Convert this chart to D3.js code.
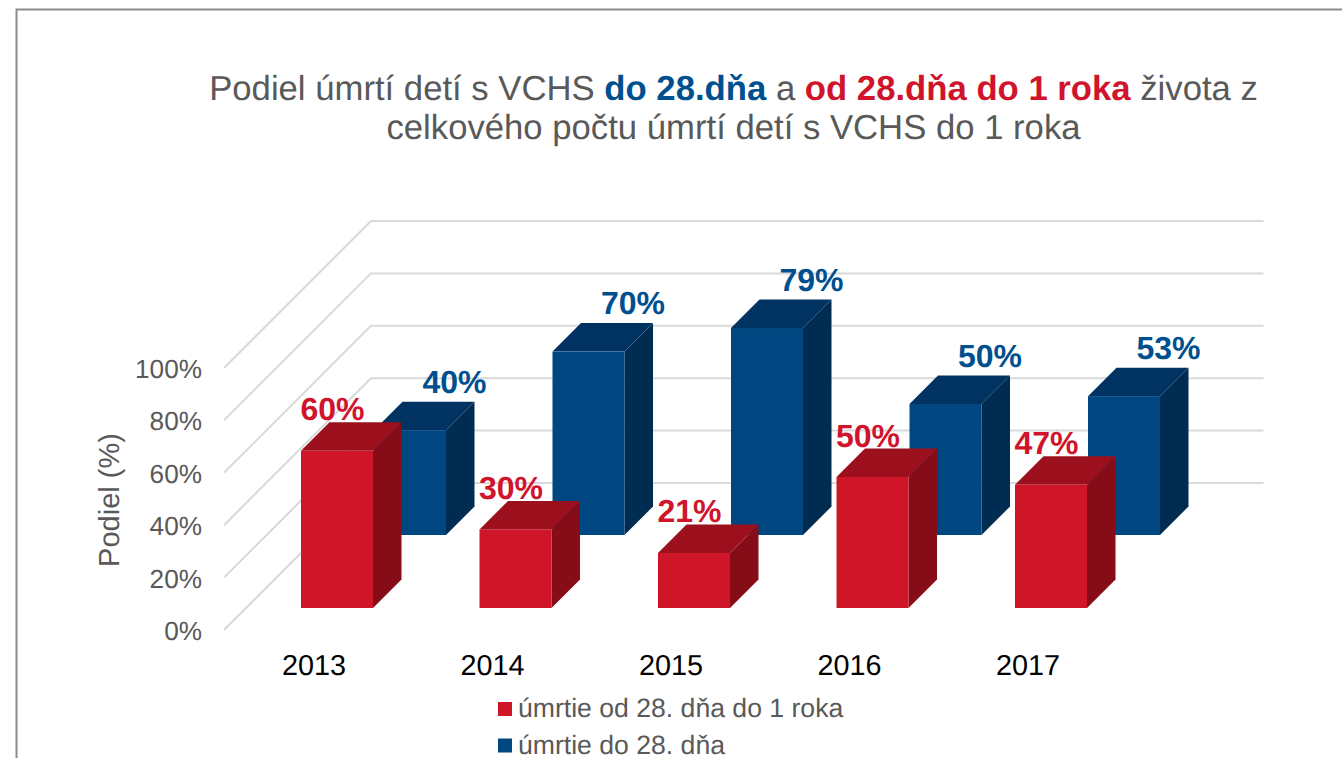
<!DOCTYPE html>
<html><head><meta charset="utf-8">
<script src="https://cdn.jsdelivr.net/npm/d3@7"></script>
<style>html,body{margin:0;padding:0;background:#fff;overflow:hidden}svg{display:block}text{font-family:"Liberation Sans",Arial,sans-serif;text-rendering:geometricPrecision}</style>
</head><body><svg id="c" width="1342" height="758"></svg>
<script>
const categories = ["2013","2014","2015","2016","2017"];
const redValues = [60,30,21,50,47];
const blueValues = [40,70,79,50,53];
const yTicks = [0,20,40,60,80,100];
const legendLabels = ["úmrtie od 28. dňa do 1 roka","úmrtie do 28. dňa"];
const colors = {
  red:{front:"#CE1628",top:"#9C101E",side:"#860C18",text:"#D0142C"},
  blue:{front:"#004680",top:"#003361",side:"#002C52",text:"#00508F"}
};
const svg = d3.select("#c");
const x = d3.scaleBand().domain(categories).range([224,1116.5]);
const y = d3.scaleLinear().domain([0,100]).range([630,368]);
const floorDepth = 147, barW = 72, barOff = 55, barDepth = 28.5;
const pt = (px,py,d)=>[px+d,py-d];
const poly = a => a.map(p=>p.join(",")).join(" ");

// frame
svg.append("path").attr("d","M16.5,758V9.5H1342").attr("fill","none").attr("stroke","#8c8c8c").attr("stroke-width",2);

// walls
const grid = svg.append("g").attr("fill","none").attr("stroke","#d9d9d9").attr("stroke-width",2);
yTicks.forEach(t=>{
  const a = pt(224,y(t),0), b = pt(224,y(t),floorDepth), c = pt(1116.5,y(t),floorDepth);
  grid.append("polyline").attr("points",poly([a,b,c]));
});

// y axis labels
svg.append("g").selectAll("text").data(yTicks).join("text")
  .attr("x",202).attr("y",t=>y(t)+10).attr("text-anchor","end")
  .attr("font-size",26.2).attr("fill","#595959").text(t=>t+"%");
svg.append("text").attr("transform","translate(119,500) rotate(-90)").attr("text-anchor","middle")
  .attr("font-size",29).attr("fill","#595959").text("Podiel (%)");

// bars
function bars(values,depth,c){
  const g = svg.append("g");
  values.forEach((v,i)=>{
    const cat = categories[i];
    const x0 = x(cat)+barOff+depth, x1 = x0+barW;
    const h = y(0)-y(v);
    const base = y(0)-depth, top = base-h;
    const bg = g.append("g");
    bg.append("polygon").attr("fill",c.side).attr("points",poly([[x1,base],[x1,top],pt(x1,top,barDepth),pt(x1,base,barDepth)]));
    bg.append("polygon").attr("fill",c.top).attr("points",poly([[x0,top],[x1,top],pt(x1,top,barDepth),pt(x0,top,barDepth)]));
    bg.append("rect").attr("fill",c.front).attr("x",x0).attr("y",top).attr("width",barW).attr("height",h);
  });
}
function labels(values,depth,c,dx,dy){
  svg.append("g").selectAll("text").data(values).join("text")
    .attr("x",(v,i)=>x(categories[i])+barOff+depth+barW/2+dx)
    .attr("y",v=>y(0)-depth-(y(0)-y(v))-barDepth-dy)
    .attr("text-anchor","middle").attr("font-size",32).attr("font-weight","bold")
    .attr("fill",c.text).text(v=>v+"%");
}
bars(blueValues,95,colors.blue);
bars(redValues,22,colors.red);
labels(blueValues,95,colors.blue,44.5,9);
labels(redValues,22,colors.red,-4.5,2);

// category labels
svg.append("g").selectAll("text").data(categories).join("text")
  .attr("x",c=>x(c)+barOff+barW/2-1).attr("y",675).attr("text-anchor","middle")
  .attr("font-size",28.8).attr("fill","#000").text(c=>c);

// title
const title = svg.append("g").attr("font-size",34.7).attr("fill","#595959").attr("text-anchor","middle");
const t1 = title.append("text").attr("x",733.5).attr("y",100);
[["Podiel úmrtí detí s VCHS ",null],["do 28.dňa",colors.blue.text],[" a ",null],["od 28.dňa do 1 roka",colors.red.text],[" života z",null]].forEach(([s,col])=>{
  const sp = t1.append("tspan").text(s);
  if(col) sp.attr("fill",col).attr("font-weight","bold");
});
title.append("text").attr("x",733.5).attr("y",139).text("celkového počtu úmrtí detí s VCHS do 1 roka");

// legend
const lg = svg.append("g");
[[legendLabels[0],colors.red.front],[legendLabels[1],colors.blue.front]].forEach(([s,col],i)=>{
  const ly = 702+i*36.5;
  lg.append("rect").attr("x",498).attr("y",ly).attr("width",14).attr("height",14).attr("fill",col);
  lg.append("text").attr("x",518).attr("y",ly+15).attr("font-size",26.6).attr("fill","#595959").text(s);
});
</script></body></html>
